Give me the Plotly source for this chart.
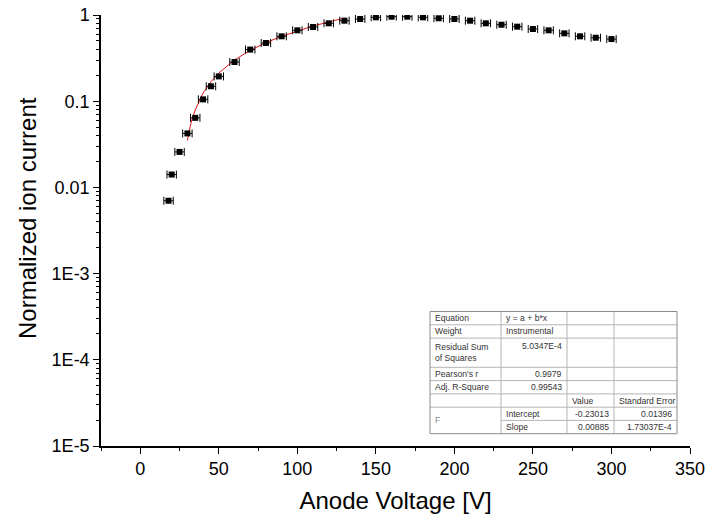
import plotly.graph_objects as go

# data
voltage = [18, 20, 25, 30, 35, 40, 45, 50, 60, 70, 80, 90, 100, 110, 120, 130, 140,
           150, 160, 170, 180, 190, 200, 210, 220, 230, 240, 250, 260, 270, 280, 290, 300]
current = [0.0070, 0.0141, 0.0258, 0.0423, 0.0641, 0.105, 0.149, 0.194, 0.285, 0.397,
           0.473, 0.566, 0.664, 0.726, 0.801, 0.859, 0.899, 0.940, 0.956, 0.956, 0.940,
           0.916, 0.899, 0.859, 0.801, 0.771, 0.732, 0.688, 0.664, 0.613, 0.566, 0.545, 0.526]
voltage_err = [3] * len(voltage)

# red fit line (y = a + b*x)
fit_v = [30, 31, 32, 33, 34, 35, 40, 45, 50, 60, 70, 80, 90, 100, 110, 120, 130]
fit_i = [0.035, 0.044, 0.053, 0.062, 0.071, 0.079, 0.124, 0.168, 0.212, 0.301, 0.389,
         0.478, 0.566, 0.655, 0.743, 0.832, 0.920]

y_tickvals = [1e-5, 1e-4, 1e-3, 1e-2, 1e-1, 1]
y_ticktext = ["1E-5", "1E-4", "1E-3", "0.01", "0.1", "1"]
y_minor = [k * d for d in [1e-5, 1e-4, 1e-3, 1e-2, 1e-1] for k in range(2, 10)]

# fit report table
table_rows = [
    ["Equation", "y = a + b*x", "", ""],
    ["Weight", "Instrumental", "", ""],
    ["Residual Sum<br>of Squares", "5.0347E-4", "", ""],
    ["Pearson's r", "0.9979", "", ""],
    ["Adj. R-Square", "0.99543", "", ""],
    ["", "", "Value", "Standard Error"],
    ["F", "Intercept", "-0.23013", "0.01396"],
    ["", "Slope", "0.00885", "1.73037E-4"],
]

W, H = 710, 526
ML, MR, MT, MB = 101, 20, 15, 80
PW, PH = W - ML - MR, H - MT - MB


def px(x):
    return (x - ML) / PW


def py(y):
    return (H - MB - y) / PH


fig = go.Figure()

fig.add_trace(go.Scatter(
    x=fit_v, y=fit_i, mode="lines",
    line=dict(color="#e8141c", width=1),
    showlegend=False, hoverinfo="skip"
))

fig.add_trace(go.Scatter(
    x=voltage, y=current, mode="markers",
    marker=dict(symbol="square", size=6, color="black"),
    error_x=dict(type="data", array=voltage_err, color="black", thickness=1, width=4),
    showlegend=False
))

# table grid
col_x = [430, 501, 567, 614, 677]
row_y = [311.5, 324.8, 338.1, 367.3, 380.6, 393.9, 407.2, 420.4, 433.7]
shapes = []
grid = "#b4b4b4"
for i, y in enumerate(row_y[1:-1], start=1):
    x0 = col_x[1] if i == 7 else col_x[0]
    shapes.append(dict(type="line", xref="paper", yref="paper",
                       x0=px(x0), x1=px(col_x[-1]), y0=py(y), y1=py(y),
                       line=dict(color=grid, width=1)))
for x in col_x[1:-1]:
    shapes.append(dict(type="line", xref="paper", yref="paper",
                       x0=px(x), x1=px(x), y0=py(row_y[0]), y1=py(row_y[-1]),
                       line=dict(color=grid, width=1)))
shapes.append(dict(type="rect", xref="paper", yref="paper",
                   x0=px(col_x[0]), x1=px(col_x[-1]), y0=py(row_y[0]), y1=py(row_y[-1]),
                   line=dict(color="#8c8c8c", width=1)))

annotations = []
tfont = dict(family="Liberation Sans, Arial", size=8.6, color="#333333")
for r, row in enumerate(table_rows):
    for c, txt in enumerate(row):
        if not txt:
            continue
        yc = (row_y[r] + row_y[r + 1]) / 2
        right = c >= 1 and txt[0] in "-0123456789" and txt != "y = a + b*x"
        if r == 2 and c == 1:
            yc = row_y[r] + 8
        if r == 6 and c == 0:
            yc = row_y[6] + (row_y[8] - row_y[6]) / 2
        x = col_x[c + 1] - 3 if right else col_x[c] + 3
        f = dict(tfont)
        if txt == "F":
            f["color"] = "#8a8a8a"
        annotations.append(dict(
            xref="paper", yref="paper", x=px(x), y=py(yc),
            text=txt, showarrow=False, align="left",
            xanchor="right" if right else "left", yanchor="middle",
            font=f
        ))

# y-axis title sits a little above the axis centre
annotations.append(dict(
    xref="paper", yref="paper", x=px(28), y=py(218),
    text="Normalized ion current", textangle=-90, showarrow=False,
    xanchor="center", yanchor="middle",
    font=dict(family="Liberation Sans, Arial", size=24, color="black")
))

fig.update_layout(
    width=W, height=H,
    margin=dict(l=ML, r=MR, t=MT, b=MB),
    plot_bgcolor="white", paper_bgcolor="white",
    font=dict(family="Liberation Sans, Arial", color="black"),
    xaxis=dict(
        range=[-25, 350], tick0=0, dtick=50, automargin=False,
        ticks="outside", ticklen=6, tickwidth=1, tickcolor="black",
        minor=dict(ticks="outside", dtick=25, tick0=0, ticklen=3, tickcolor="black"),
        showline=True, linecolor="black", linewidth=1.5,
        showgrid=False, zeroline=False,
        tickfont=dict(size=18),
        title=dict(text="Anode Voltage [V]", font=dict(size=24), standoff=14)
    ),
    yaxis=dict(
        type="log", range=[-5, 0], automargin=False,
        tickmode="array", tickvals=y_tickvals, ticktext=y_ticktext,
        ticks="outside", ticklen=6, tickwidth=1, tickcolor="black",
        minor=dict(ticks="outside", tickmode="array", tickvals=y_minor,
                   ticklen=3, tickcolor="black"),
        showline=True, linecolor="black", linewidth=1.5,
        showgrid=False, zeroline=False,
        tickfont=dict(size=18),
    ),
    shapes=shapes,
    annotations=annotations,
)

# page body margin would shift the figure by 8px
fig.write_html("out.html", config={"displayModeBar": False},
               post_script="document.body.style.margin='0';")
